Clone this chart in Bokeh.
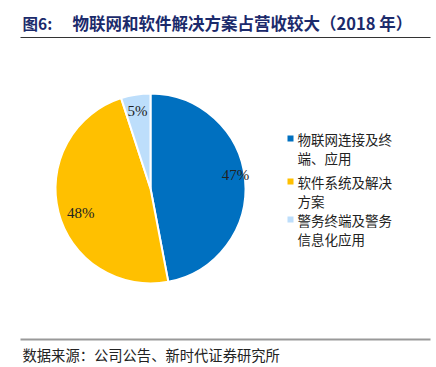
import numpy as np
from bokeh.plotting import figure
from bokeh.models import Range1d, ColumnDataSource
from bokeh.core.properties import value
from bokeh.embed import file_html
from bokeh.resources import INLINE

# ---- data ----
categories = ["物联网连接及终端、应用", "软件系统及解决方案", "警务终端及警务信息化应用"]
legend_lines = [["物联网连接及终", "端、应用"], ["软件系统及解决", "方案"], ["警务终端及警务", "信息化应用"]]
shares = [47, 48, 5]
labels = ["47%", "48%", "5%"]
colors = ["#0070C0", "#FFC000", "#BDDEFB"]
title_prefix = "图6:"
title_text = "物联网和软件解决方案占营收较大（2018 年）"
source_text = "数据来源：公司公告、新时代证券研究所"

W, H = 436, 367
OFF = 0

def sx(x):
    return x - OFF

def sy(y):
    return H - (y - OFF)

p = figure(width=W, height=H, x_range=Range1d(0, W), y_range=Range1d(0, H),
           output_backend="svg", toolbar_location=None,
           x_axis_type=None, y_axis_type=None, min_border=0)
p.grid.visible = False
p.outline_line_color = None
p.background_fill_color = "white"

CJK = value("Noto Sans CJK SC")

# title
p.text(x=[sx(22)], y=[sy(22)], text=[title_prefix], text_font=CJK, text_font_style="bold",
       text_font_size="15.5px", text_color="#1B2A6B", text_baseline="middle")
p.text(x=[sx(72)], y=[sy(22)], text=[title_text], text_font=CJK, text_font_style="bold",
       text_font_size="16.5px", text_color="#1B2A6B", text_baseline="middle")
p.segment(x0=[sx(20)], y0=[sy(37)], x1=[sx(430)], y1=[sy(37)], line_color="#333333", line_width=1)

# pie
vals = np.array(shares, dtype=float)
frac = vals / vals.sum()
cum = np.concatenate([[0], np.cumsum(frac)])
start = np.deg2rad(90 - cum[:-1] * 360)
end = np.deg2rad(90 - cum[1:] * 360)
cx, cy, r = sx(150), sy(188), 95
src = ColumnDataSource(dict(start=start, end=end, color=colors))
p.wedge(x=cx, y=cy, radius=r, start_angle="start", end_angle="end", direction="clock",
        fill_color="color", line_color="white", line_width=2, source=src)

mid = (start + end) / 2 + np.deg2rad([3.3, 5.3, 0.5])
rf = np.array([0.905, 0.78, 0.83])
lx = cx + r * rf * np.cos(mid)
ly = cy + r * rf * np.sin(mid)
p.text(x=lx, y=ly, text=labels, text_font=value("Liberation Serif"), text_font_size="15px",
       text_color="#222222", text_align="center", text_baseline="middle")

# legend
leg_y = [138, 181, 219]
p.scatter(x=[sx(290)] * 3, y=[sy(v) for v in leg_y], marker="square", size=6,
          fill_color=colors, line_color=None)
for i, lines in enumerate(legend_lines):
    for j, t in enumerate(lines):
        p.text(x=[sx(297)], y=[sy(leg_y[i] + j * 19.5)], text=[t], text_font=CJK,
               text_font_size="13.5px", text_color="#222222", text_baseline="middle")

# footer
p.segment(x0=[sx(20)], y0=[sy(339)], x1=[sx(430)], y1=[sy(339)], line_color="#999999", line_width=2)
p.text(x=[sx(22)], y=[sy(354)], text=[source_text], text_font=CJK, text_font_size="14.3px",
       text_color="#222222", text_baseline="middle")

open("out.html", "w").write(file_html(p, INLINE))
